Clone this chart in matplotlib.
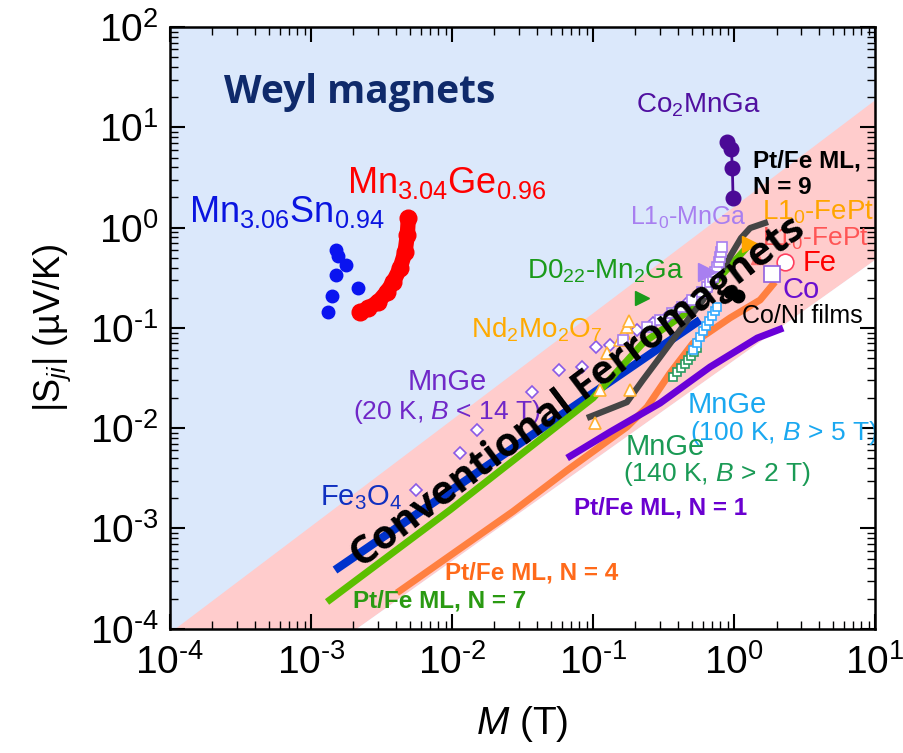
import math

import matplotlib.pyplot as plt
from matplotlib.ticker import FuncFormatter, LogLocator, NullFormatter

plt.rcParams["font.family"] = ["Liberation Sans", "DejaVu Sans"]
plt.rcParams["mathtext.fontset"] = "custom"
plt.rcParams["mathtext.rm"] = "Liberation Sans"
plt.rcParams["mathtext.it"] = "Liberation Sans:italic"
plt.rcParams["mathtext.bf"] = "Liberation Sans:bold"

# magnetisation M (T) against anomalous Nernst coefficient |S_ji| (uV/K)
mn3sn_m = [1.50e-3, 1.55e-3, 1.77e-3, 1.50e-3, 2.15e-3, 1.41e-3, 1.32e-3]
mn3sn_s = [0.598, 0.521, 0.424, 0.337, 0.250, 0.208, 0.144]

mn3ge_m = [2.23e-3, 2.55e-3, 3.00e-3, 3.46e-3, 3.84e-3, 4.28e-3, 4.65e-3, 4.82e-3, 4.90e-3]
mn3ge_s = [0.143, 0.157, 0.182, 0.230, 0.289, 0.393, 0.575, 0.844, 1.24]

co2mnga_m = [0.898, 0.957, 0.973, 0.984]
co2mnga_s = [7.08, 6.08, 3.91, 1.98]

fe3o4_m = [1.48e-3, 0.0809, 0.574]
fe3o4_s = [3.85e-4, 0.0182, 0.120]

ptfe7_m = [1.30e-3, 9.68e-3, 0.100, 0.226, 0.488, 1.24]
ptfe7_s = [1.85e-4, 1.53e-3, 0.0200, 0.0706, 0.151, 0.641]

ptfe4_m = [4.07e-3, 0.0271, 0.0655, 0.174, 0.242, 0.352, 0.512, 0.938, 1.53, 1.95]
ptfe4_s = [2.28e-4, 1.48e-3, 3.80e-3, 1.03e-2, 0.0163, 0.0355, 0.0706, 0.126, 0.190, 0.287]

ptfe1_m = [0.0655, 0.132, 0.299, 0.676, 1.46, 2.23]
ptfe1_s = [5.04e-3, 9.16e-3, 0.0178, 0.0408, 0.0793, 0.0997]

ptfe9_m = [0.0906, 0.126, 0.174, 0.226, 0.299, 0.414, 0.603, 0.863, 1.12, 1.30, 1.74]
ptfe9_s = [0.01265, 0.0152, 0.0182, 0.0303, 0.0513, 0.0953, 0.190, 0.424, 0.787, 0.991, 1.14]

mnge20_m = [5.56e-3, 0.0114, 0.0150, 0.0369, 0.0574, 0.0836, 0.105, 0.132,
            0.205, 0.267, 0.335, 0.394, 0.464, 0.547]
mnge20_s = [2.42e-3, 5.66e-3, 9.59e-3, 0.0230, 0.0380, 0.0408, 0.0646, 0.0676,
            0.0953, 0.112, 0.128, 0.151, 0.177, 0.203]

mnge100_m = [0.512, 0.547, 0.574, 0.603, 0.633, 0.665, 0.698, 0.733, 0.757]
mnge100_s = [0.0603, 0.0706, 0.0811, 0.0931, 0.104, 0.117, 0.132, 0.147, 0.161]

mnge140_m = [0.369, 0.394, 0.421, 0.449, 0.472, 0.495, 0.520, 0.547]
mnge140_s = [0.0324, 0.0363, 0.0398, 0.0436, 0.0478, 0.0525, 0.0575, 0.0631]

ndmo_m = [0.103, 0.112, 0.183, 0.126, 0.155, 0.166, 0.174, 0.180]
ndmo_s = [0.01127, 0.0240, 0.0240, 0.0562, 0.0757, 0.0889, 0.102, 0.117]

l10mnga_m = [0.164, 0.240, 0.299, 0.361, 0.426, 0.501, 0.590,
             0.644, 0.676, 0.710, 0.733, 0.757, 0.783, 0.796, 0.809, 0.822]
l10mnga_s = [0.0757, 0.103, 0.120, 0.140, 0.160, 0.190, 0.230,
             0.256, 0.287, 0.322, 0.361, 0.405, 0.454, 0.509, 0.571, 0.641]
l10mnga_tri = (0.644, 0.361)

d022_mn2ga = (0.223, 0.199)
l10fept_orange = (1.30, 0.686)
l10fept_red = (1.46, 0.498)
fe_point = (2.30, 0.454)
co_point = (1.86, 0.344)
coni_m = [0.938, 1.07]
coni_s = [0.228, 0.208]

# shaded regions, as (log10 M, log10 S) end points of the boundary lines
band_upper = [(-3.96, -4.0), (1.0, 1.27)]
band_lower = [(-2.674, -4.0), (1.0, -0.323)]


def pow10_label(value, _pos):
    exp = int(round(math.log10(value)))
    # plain hyphen in the exponent instead of mathtext's long minus
    return "10$^{%s}$" % str(exp).replace("-", "\u2010")


fig = plt.figure(figsize=(9.04, 7.53), dpi=100)
ax = fig.add_axes([0.188, 0.165, 0.780, 0.799])
ax.set_xscale("log")
ax.set_yscale("log")
ax.set_xlim(1e-4, 1e1)
ax.set_ylim(1e-4, 1e2)
ax.set_facecolor("#dbe8fb")

up = [(10 ** a, 10 ** b) for a, b in band_upper]
lo = [(10 ** a, 10 ** b) for a, b in band_lower]
ax.fill([up[0][0], up[1][0], lo[1][0], lo[0][0]],
        [up[0][1], up[1][1], lo[1][1], lo[0][1]],
        color="#ffcccc", lw=0, zorder=0)
ax.fill([lo[0][0], lo[1][0], 1e1], [lo[0][1], lo[1][1], 1e-4],
        color="white", lw=0, zorder=0)

# thin-film lines
ax.plot(fe3o4_m, fe3o4_s, color="#0033cc", lw=6, solid_capstyle="butt", zorder=3)
ax.plot(ptfe7_m, ptfe7_s, color="#5cbf00", lw=5, solid_capstyle="butt", zorder=3)
ax.plot(ptfe4_m, ptfe4_s, color="#ff8040", lw=5, solid_capstyle="butt", zorder=3)
ax.plot(ptfe1_m, ptfe1_s, color="#6a00d8", lw=5, solid_capstyle="butt", zorder=3)
ax.plot(ptfe9_m, ptfe9_s, color="#454545", lw=4.5, solid_capstyle="butt", zorder=4)

# bulk compounds
ax.plot(mnge20_m, mnge20_s, "D", ms=6.5, mfc="white", mec="#8a5ae6", mew=1.2, zorder=5)
ax.plot(ndmo_m, ndmo_s, "^", ms=9, mfc="white", mec="#ffb030", mew=1.2, zorder=5)
ax.plot(mnge140_m, mnge140_s, "s", ms=6, mfc="white", mec="#2a9a60", mew=1.2, zorder=5)
ax.plot(mnge100_m, mnge100_s, "s", ms=6, mfc="white", mec="#33aaff", mew=1.2, zorder=5)
ax.plot(l10mnga_m, l10mnga_s, "s", ms=6.5, mfc="white", mec="#a87ff0", mew=1.2, zorder=5)
ax.plot(*l10mnga_tri, ">", ms=13, color="#a87ff0", zorder=6)
ax.plot(*d022_mn2ga, ">", ms=10, color="#1a9a1a", zorder=6)
ax.plot(*l10fept_orange, ">", ms=11, color="#ffa500", zorder=6)
ax.plot(*l10fept_red, "^", ms=9, color="#ff7070", zorder=6)
ax.plot(*fe_point, "o", ms=12, mfc="white", mec="#ff4060", mew=1.2, zorder=6)
ax.plot(*co_point, "s", ms=11, mfc="white", mec="#9060e0", mew=1.2, zorder=6)
ax.plot(coni_m, coni_s, "o", ms=9, color="black", zorder=6)

ax.plot(mn3sn_m, mn3sn_s, "o", ms=9, color="#0a14f0", lw=0, zorder=6)
ax.plot(mn3ge_m, mn3ge_s, "o-", ms=12, lw=11, color="#ff0000",
        solid_capstyle="round", zorder=6)
ax.plot(co2mnga_m, co2mnga_s, "o-", ms=10.5, lw=2, color="#4b0a96", zorder=6)

# region and series labels
ax.text(2.23e-3, 22.5, "Weyl magnets", family="Open Sans", weight="bold",
        fontsize=28, color="#0f2a6b", ha="center", va="center", zorder=8)
ax.text(0.0783, 0.0225, "Conventional Ferromagnets", family="Open Sans",
        weight="bold", fontsize=29, color="black", rotation=37,
        rotation_mode="anchor", ha="center", va="center", zorder=9)

labels = [
    (6.76e-4, 1.43, r"Mn$_{3.06}$Sn$_{0.94}$", "#0a14e0", 26, "center", "normal"),
    (9.23e-3, 2.79, r"Mn$_{3.04}$Ge$_{0.96}$", "#ff0000", 26, "center", "normal"),
    (0.556, 16.7, r"Co$_2$MnGa", "#5010a0", 20, "center", "normal"),
    (1.36, 3.42, "Pt/Fe ML,\nN = 9", "black", 17.5, "left", "bold"),
    (0.472, 1.25, r"L1$_0$-MnGa", "#a87ff0", 18, "center", "normal"),
    (1.58, 1.43, r"L1$_0$-FePt", "#ffa500", 20, "left", "normal"),
    (1.58, 0.780, r"L1$_0$-FePt", "#ff5555", 19, "left", "normal"),
    (3.08, 0.444, "Fe", "#ff0000", 21, "left", "normal"),
    (2.19, 0.239, "Co", "#6a10d0", 21, "left", "normal"),
    (1.14, 0.132, "Co/Ni films", "black", 18, "left", "normal"),
    (0.122, 0.369, r"D0$_{22}$-Mn$_2$Ga", "#1a9a1a", 20, "center", "normal"),
    (0.0401, 0.0953, r"Nd$_2$Mo$_2$O$_7$", "#ffaa00", 20, "center", "normal"),
    (9.23e-3, 0.0289, "MnGe", "#7028c8", 21, "center", "normal"),
    (9.23e-3, 0.0145, r"(20 K, $B$ < 14 T)", "#7028c8", 19, "center", "normal"),
    (0.472, 0.0170, "MnGe", "#1aa8f0", 21, "left", "normal"),
    (0.488, 8.95e-3, r"(100 K, $B$ > 5 T)", "#1aa8f0", 19, "left", "normal"),
    (0.169, 6.50e-3, "MnGe", "#1a9a55", 21, "left", "normal"),
    (0.163, 3.49e-3, r"(140 K, $B$ > 2 T)", "#1a9a55", 19, "left", "normal"),
    (0.299, 1.60e-3, "Pt/Fe ML, N = 1", "#6a00d0", 17.5, "center", "bold"),
    (1.16e-3, 2.01e-3, r"Fe$_3$O$_4$", "#1030c0", 21, "left", "normal"),
    (0.0369, 3.60e-4, "Pt/Fe ML, N = 4", "#ff6a1a", 17.5, "center", "bold"),
    (8.22e-3, 1.89e-4, "Pt/Fe ML, N = 7", "#2a9a12", 17.5, "center", "bold"),
]
for x, y, txt, col, size, ha, weight in labels:
    ax.text(x, y, txt, color=col, fontsize=size, ha=ha, va="center",
            weight=weight, linespacing=1.2, zorder=7)

ax.xaxis.set_major_locator(LogLocator(base=10, numticks=10))
ax.yaxis.set_major_locator(LogLocator(base=10, numticks=10))
ax.xaxis.set_major_formatter(FuncFormatter(pow10_label))
ax.yaxis.set_major_formatter(FuncFormatter(pow10_label))
ax.xaxis.set_minor_locator(LogLocator(base=10, subs=range(2, 10), numticks=20))
ax.yaxis.set_minor_locator(LogLocator(base=10, subs=range(2, 10), numticks=20))
ax.xaxis.set_minor_formatter(NullFormatter())
ax.yaxis.set_minor_formatter(NullFormatter())
ax.tick_params(which="both", direction="in", top=True, right=True)
ax.tick_params(which="major", length=11, width=1.5, labelsize=28, pad=8)
ax.tick_params(axis="x", which="major", pad=11)
ax.tick_params(which="minor", length=6, width=1.0)
for side in ax.spines.values():
    side.set_linewidth(1.8)
    side.set_zorder(10)

ax.set_xlabel(r"$M$ (T)", fontsize=28, labelpad=16)
ax.set_ylabel(r"|S$_{ji}$| (µV/K)", fontsize=26, labelpad=12)

fig.savefig("out.png", dpi=100)
